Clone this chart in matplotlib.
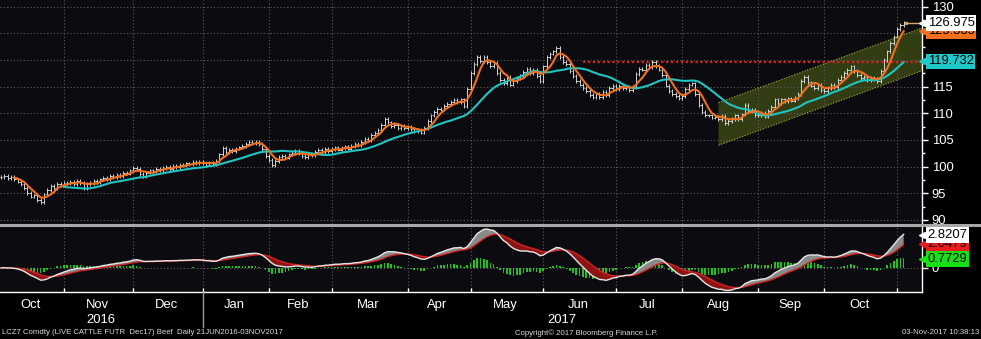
import numpy as np
import pandas as pd
import matplotlib
matplotlib.use("Agg")
import matplotlib.pyplot as plt
from matplotlib.collections import LineCollection
from matplotlib.lines import Line2D
from matplotlib.patches import Polygon
import matplotlib.transforms as mtransforms

plt.rcParams['font.family'] = ['Liberation Sans', 'DejaVu Sans']

# ---------------- data ----------------
start_date = '2016-10-05'
end_date = '2017-11-03'
holidays = ['2016-11-24', '2016-12-26', '2017-01-02', '2017-01-16', '2017-02-20',
            '2017-04-14', '2017-05-29', '2017-07-04', '2017-09-04']

closes_oct16 = [98.0, 98.3, 97.8, 98.0, 97.6, 97.2, 96.8, 96.0, 95.0, 94.4, 94.6, 93.8, 93.3,
                94.8, 95.6, 96.4, 96.0, 96.8, 96.5]
closes_nov16 = [96.9, 97.0, 97.2, 96.8, 97.3, 96.9, 96.0, 96.8, 97.0, 97.3, 97.1, 97.6, 97.9,
                97.7, 98.2, 98.0, 98.5, 98.3, 98.9, 98.7, 99.3]
closes_dec16 = [99.8, 99.6, 98.6, 98.2, 98.9, 99.3, 99.2, 99.6, 99.4, 99.8, 99.9, 99.6, 100.1,
                100.0, 100.4, 100.2, 100.6, 100.5, 100.9, 100.7, 100.9]
closes_jan17 = [100.6, 100.4, 100.8, 100.5, 101.0, 102.3, 103.5, 102.8, 103.2, 102.9, 103.4,
                103.6, 103.9, 104.3, 104.6, 104.4, 104.7, 104.2, 103.3, 102.0]
closes_feb17 = [101.2, 100.3, 101.0, 101.8, 102.0, 101.7, 102.3, 102.6, 102.9, 102.5, 102.0,
                101.8, 102.3, 102.1, 102.8, 103.2, 102.8, 103.3, 103.0]
closes_mar17 = [103.3, 103.6, 103.2, 103.5, 103.8, 103.4, 103.9, 104.3, 104.0, 104.6, 105.2,
                105.0, 105.9, 106.4, 106.9, 107.8, 109.0, 108.3, 107.6, 107.8, 107.3, 107.6, 107.2]
closes_apr17 = [107.5, 107.0, 106.6, 106.9, 106.4, 107.2, 108.6, 109.6, 110.2, 110.9, 110.7,
                111.4, 111.8, 112.1, 112.5, 112.1, 112.6, 111.3, 114.6]
closes_may17 = [117.6, 119.2, 120.6, 119.8, 120.5, 119.6, 118.8, 119.5, 117.6, 116.2, 115.6,
                116.9, 115.4, 116.0, 116.6, 117.0, 117.8, 118.3, 117.6, 118.2, 117.0, 116.0]
closes_jun17 = [118.8, 120.6, 121.2, 121.6, 122.2, 120.6, 119.6, 119.2, 118.0, 117.0, 116.0,
                115.4, 114.8, 114.2, 113.5, 113.0, 113.6, 113.0, 114.0, 113.4, 114.8, 115.2]
closes_jul17 = [114.6, 115.2, 114.7, 115.0, 114.4, 115.0, 117.4, 118.4, 118.2, 119.0, 118.7,
                119.6, 118.9, 118.2, 117.2, 115.2, 114.2, 113.6, 113.2, 112.9]
closes_aug17 = [113.2, 114.6, 115.4, 115.6, 113.6, 111.6, 110.2, 109.6, 109.6, 109.2, 109.4,
                109.0, 109.5, 108.2, 108.6, 109.0, 109.6, 108.9, 109.8, 111.6, 110.4, 110.6, 109.6]
closes_sep17 = [109.6, 110.0, 109.4, 110.4, 111.2, 112.6, 112.0, 112.6, 112.3, 112.8, 112.4,
                112.9, 113.6, 116.0, 116.8, 115.8, 115.2, 114.8, 115.3, 114.4]
closes_oct17 = [114.2, 114.8, 115.4, 115.0, 116.2, 116.8, 117.6, 118.2, 118.8, 118.0, 117.2,
                116.6, 116.8, 116.2, 116.6, 116.4, 116.0, 118.0, 120.0, 121.6, 123.2, 124.4]
closes_nov17 = [125.8, 126.6, 126.975]

ma_fast_period = 5
ma_slow_period = 20
macd_periods = (12, 26, 9)

resistance_level = 119.7
resistance_start = '2017-06-19'
channel_start = '2017-08-16'
channel_upper = [112.0, 126.0]
channel_lower = [104.0, 118.0]

price_labels = [(126.975, '126.975', '#ffffff'), (125.385, '125.385', '#f07020'),
                (119.732, '119.732', '#1ec8c8')]
price_labels_draw_order = [1, 0, 2]
macd_labels = [(2.8207, '2.8207', '#ffffff'), (2.0479, '2.0479', '#e81c1c'),
               (0.7729, '0.7729', '#16e016')]
macd_labels_draw_order = [1, 0, 2]

price_ticks = [90, 95, 100, 105, 110, 115, 120, 125, 130]
hidden_price_ticks = [120, 125]   # covered by the value boxes in the original

footer_left = 'LCZ7 Comdty (LIVE CATTLE FUTR  Dec17) Beef  Daily 21JUN2016-03NOV2017'
footer_mid = 'Copyright\u00a9 2017 Bloomberg Finance L.P.'
footer_right = '03-Nov-2017 10:38:13'

# ---------------- derived ----------------
closes = np.array(closes_oct16 + closes_nov16 + closes_dec16 + closes_jan17 + closes_feb17 +
                  closes_mar17 + closes_apr17 + closes_may17 + closes_jun17 + closes_jul17 +
                  closes_aug17 + closes_sep17 + closes_oct17 + closes_nov17)
dates = pd.bdate_range(start_date, end_date)
dates = dates[~dates.isin(pd.to_datetime(holidays))]
n = min(len(dates), len(closes))
dates = dates[:n]
closes = closes[:n]
x = np.arange(n)
s = pd.Series(closes)
ma_fast = s.rolling(ma_fast_period).mean()
ma_slow = s.rolling(ma_slow_period).mean()
ema_f = s.ewm(span=macd_periods[0], adjust=False).mean()
ema_s = s.ewm(span=macd_periods[1], adjust=False).mean()
macd = (ema_f - ema_s).values
signal = pd.Series(macd).ewm(span=macd_periods[2], adjust=False).mean().values
hist = macd - signal

opens = np.r_[closes[0], closes[:-1]]
wick = 0.35
highs = np.maximum(opens, closes) + wick
lows = np.minimum(opens, closes) - wick

def idx_of(d):
    return int(np.searchsorted(dates.values, np.datetime64(pd.Timestamp(d))))

# month boundaries & centers
periods = dates.to_period('M')
month_starts, month_centers, month_names = [], [], []
for p in periods.unique():
    ids = np.where(periods == p)[0]
    if ids[0] > 0:
        month_starts.append(ids[0])
    if len(ids) >= 10:
        month_centers.append((ids[0] + ids[-1]) / 2)
        month_names.append(p.strftime('%b'))
year_start = [i for i in month_starts if dates[i].month == 1][0]

# ---------------- figure ----------------
W, H = 981, 339
fig = plt.figure(figsize=(W / 100, H / 100), dpi=100, facecolor='black')
AX_RIGHT = 922
XMIN, XMAX = -0.3, AX_RIGHT / 3.31
ax = fig.add_axes([0, 1 - 224 / H, AX_RIGHT / W, 224 / H])
ax2 = fig.add_axes([0, 1 - 292 / H, AX_RIGHT / W, 65 / H])
bg = '#0b0b10'
grid_kw = dict(color='#5e5e5e', linestyle=(0, (1, 2)), linewidth=0.8)
for a in (ax, ax2):
    a.set_facecolor(bg)
    a.set_xlim(XMIN, XMAX)
    for sp in ('left', 'top'):
        a.spines[sp].set_visible(False)
    a.spines['right'].set_color('white')
    a.spines['right'].set_linewidth(1.0)
    a.set_axisbelow(True)
    a.yaxis.tick_right()
ax.spines['bottom'].set_visible(False)

# ---- price panel ----
ax.set_ylim(89.25, 131.25)
ax.set_yticks(price_ticks)
ax.set_yticklabels(['' if t in hidden_price_ticks else str(t) for t in price_ticks])
ax.set_yticks(np.arange(92.5, 130, 5), minor=True)
ax.tick_params(axis='y', which='major', colors='white', labelsize=9.4, length=4, width=1, pad=3)
ax.tick_params(axis='y', which='minor', colors='white', length=2, width=1)
ax.set_xticks(month_starts)
ax.tick_params(axis='x', length=0, labelbottom=False)
ax.grid(True, which='major', **grid_kw)

# channel
c0 = idx_of(channel_start)
poly = Polygon([(c0, channel_upper[0]), (XMAX, channel_upper[1]),
                (XMAX, channel_lower[1]), (c0, channel_lower[0])],
               closed=True, facecolor='#3a4614', edgecolor='none', alpha=0.85, zorder=0.3)
ax.add_patch(poly)
ax.plot([c0, XMAX], channel_upper, color='#a8b040', lw=0.8, ls=(0, (1, 1.5)), zorder=0.6)
ax.plot([c0, XMAX], channel_lower, color='#a8b040', lw=0.8, ls=(0, (1, 1.5)), zorder=0.6)

# resistance line
r0 = idx_of(resistance_start)
ax.plot([r0, XMAX], [resistance_level] * 2, color='#e02020', lw=1.6, ls=(0, (1, 1.2)), zorder=2)

# OHLC bars
segs = []
for xi, o, h, l, c in zip(x, opens, highs, lows, closes):
    segs.append([(xi, l), (xi, h)])
    segs.append([(xi - 0.45, o), (xi, o)])
    segs.append([(xi, c), (xi + 0.45, c)])
ax.add_collection(LineCollection(segs, colors='#d4d4d4', linewidths=0.7, zorder=3))

ax.plot(x, ma_slow, color='#20c4c0', lw=1.5, zorder=4)
ax.plot(x, ma_fast, color='#f07020', lw=1.5, zorder=5)

# last price marker line
ax.plot([x[-1] + 0.6, XMAX], [closes[-1]] * 2, color='#d9a86a', lw=1.0, zorder=5)
ax.plot([x[-1] + 0.6], [closes[-1]], marker='o', ms=1.5, color='#d9a86a', zorder=5)

def value_label(a, val, txt, col):
    tr = mtransforms.blended_transform_factory(a.transAxes, a.transData)
    a.plot([1.0], [val], marker='<', ms=5, color=col, transform=tr, clip_on=False, zorder=10)
    a.text(1.006, val, txt, transform=tr, va='center', ha='left', fontsize=9.4, color='black',
           bbox=dict(boxstyle='square,pad=0.14', fc=col, ec='none'), clip_on=False, zorder=10)

for i in price_labels_draw_order:
    value_label(ax, *price_labels[i])

# ---- MACD panel ----
ax2.set_ylim(-2.05, 3.5)
ax2.set_yticks([0])
ax2.set_yticklabels(['0'])
ax2.tick_params(axis='y', colors='white', labelsize=9.4, length=4, width=1, pad=3)
ax2.spines['bottom'].set_color('white')
ax2.spines['bottom'].set_linewidth(1.0)
ax2.set_xticks(month_starts)
ax2.set_xticklabels([''] * len(month_starts))
ax2.tick_params(axis='x', which='major', direction='in', length=3, width=1, color='white')
ax2.set_xticks(month_centers, minor=True)
ax2.set_xticklabels(month_names, minor=True)
ax2.tick_params(axis='x', which='minor', length=0, pad=5, labelsize=9.4, labelcolor='white')
ax2.grid(True, axis='x', which='major', **grid_kw)
ax2.axhline(0, **grid_kw, zorder=0.5)

ax2.bar(x, hist, width=0.5, color='#22c022', zorder=1)
ax2.fill_between(x, macd, signal, where=macd >= signal, interpolate=True,
                 color='#8a8a8a', lw=0, zorder=2)
ax2.fill_between(x, macd, signal, where=macd < signal, interpolate=True,
                 color='#8e1414', lw=0, zorder=2)
ax2.plot(x, signal, color='#d02424', lw=1.0, zorder=3)
ax2.plot(x, macd, color='#e6e6e6', lw=1.0, zorder=4)

for i in macd_labels_draw_order:
    value_label(ax2, *macd_labels[i])

# separator between panels
fig.add_artist(Line2D([0, 1], [1 - 225.3 / H] * 2, color='#a8a8a8', lw=2.2))

# year labels and separator
trx = mtransforms.blended_transform_factory(ax2.transData, fig.transFigure)
fig.add_artist(Line2D([year_start, year_start], [1 - 292 / H, 1 - 327 / H], transform=trx,
                      color='#9a9a9a', lw=1.0))
years = [(XMIN + year_start) / 2, (year_start + XMAX) / 2]
for xc, lab in zip(years, [str(dates[0].year), str(dates[-1].year)]):
    fig.text(xc, 1 - 320 / H, lab, transform=trx, ha='center', va='center',
             fontsize=9.4, color='white')

# footer
fig.text(2 / W, 1 - 333 / H, footer_left, ha='left', va='center', fontsize=5.6, color='#d8d8d8')
fig.text(515 / W, 1 - 333 / H, footer_mid, ha='left', va='center', fontsize=5.6, color='#d8d8d8')
fig.text(979 / W, 1 - 333 / H, footer_right, ha='right', va='center', fontsize=5.6, color='#d8d8d8')

fig.savefig('out.png', dpi=100, facecolor='black')
